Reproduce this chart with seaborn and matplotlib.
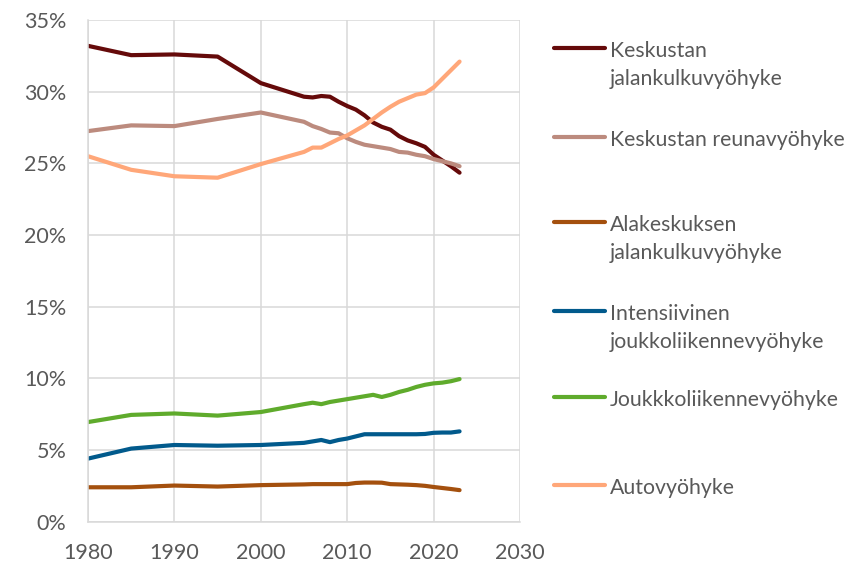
import pandas as pd
import matplotlib.pyplot as plt
from matplotlib.lines import Line2D
from matplotlib.ticker import FuncFormatter
import seaborn as sns

# years: five-year steps until 2005, then annual
years = [1980, 1985, 1990, 1995, 2000] + list(range(2005, 2024))

# share of population (%) by zone
keskusta_jalankulku = [33.2, 32.55, 32.6, 32.45, 30.6, 29.65, 29.6, 29.7, 29.65, 29.3,
                       29.0, 28.75, 28.35, 27.85, 27.55, 27.35, 26.9, 26.6, 26.4, 26.15,
                       25.6, 25.2, 24.8, 24.35]
keskusta_reuna = [27.25, 27.65, 27.6, 28.1, 28.55, 27.9, 27.6, 27.4, 27.15, 27.1,
                  26.75, 26.5, 26.3, 26.2, 26.1, 26.0, 25.8, 25.75, 25.6, 25.5,
                  25.3, 25.15, 25.0, 24.8]
alakeskus_jalankulku = [2.4, 2.4, 2.52, 2.45, 2.55, 2.6, 2.62, 2.62, 2.62, 2.62,
                        2.62, 2.7, 2.73, 2.73, 2.72, 2.62, 2.6, 2.58, 2.55, 2.5,
                        2.42, 2.35, 2.28, 2.2]
intensiivinen_joukko = [4.4, 5.1, 5.35, 5.3, 5.35, 5.5, 5.6, 5.7, 5.55, 5.7,
                        5.8, 5.95, 6.1, 6.1, 6.1, 6.1, 6.1, 6.1, 6.1, 6.12,
                        6.2, 6.22, 6.22, 6.3]
joukko = [6.95, 7.45, 7.55, 7.4, 7.65, 8.2, 8.3, 8.2, 8.35, 8.45,
          8.55, 8.65, 8.75, 8.85, 8.7, 8.85, 9.05, 9.2, 9.4, 9.55,
          9.65, 9.7, 9.8, 9.95]
auto = [25.5, 24.55, 24.1, 24.0, 24.95, 25.8, 26.1, 26.1, 26.4, 26.7,
        26.95, 27.3, 27.65, 28.1, 28.55, 28.95, 29.3, 29.55, 29.8, 29.9,
        30.3, 30.9, 31.5, 32.1]

labels = ["Keskustan\njalankulkuvyöhyke", "Keskustan reunavyöhyke",
          "Alakeskuksen\njalankulkuvyöhyke", "Intensiivinen\njoukkoliikennevyöhyke",
          "Joukkkoliikennevyöhyke", "Autovyöhyke"]
series = [keskusta_jalankulku, keskusta_reuna, alakeskus_jalankulku,
          intensiivinen_joukko, joukko, auto]
colors = ["#650A0A", "#BC8B7E", "#A4500E", "#015A8C", "#5FAB2C", "#FFA779"]

df = pd.concat([pd.DataFrame({"vuosi": years, "osuus": s, "vyöhyke": lab})
                for s, lab in zip(series, labels)])

sns.set_theme(style="whitegrid")
plt.rcParams["font.family"] = ["Lato", "DejaVu Sans"]
grey = "#595959"

fig = plt.figure(figsize=(8.51, 5.63), dpi=100)
ax = fig.add_axes([0.1034, 0.0734, 0.5077, 0.891])

sns.lineplot(data=df, x="vuosi", y="osuus", hue="vyöhyke", hue_order=labels,
             palette=dict(zip(labels, colors)), linewidth=3.0, legend=False, ax=ax)

ax.set_xlim(1980, 2030)
ax.set_ylim(0, 35)
ax.set_xticks(range(1980, 2031, 10))
ax.set_yticks(range(0, 36, 5))
ax.yaxis.set_major_formatter(FuncFormatter(lambda v, p: f"{v:.0f}%"))
ax.set_xlabel("")
ax.set_ylabel("")
ax.grid(color="#D9D9D9", linewidth=1.1)
for side in ["left", "bottom"]:
    ax.spines[side].set_color("#D9D9D9")
    ax.spines[side].set_linewidth(1.1)
for side in ["top", "right"]:
    ax.spines[side].set_visible(False)
ax.tick_params(axis="both", length=0, labelsize=15.5, colors=grey)
ax.tick_params(axis="y", pad=15.5)
ax.tick_params(axis="x", pad=15)

# hand-placed legend like the original, handle level with the first text line
W, H = 851, 563
legend_y = [48, 137, 222, 311, 397, 485]
line_step = 28
for lab, col, y in zip(labels, colors, legend_y):
    fy = 1 - y / H
    fig.add_artist(Line2D([554 / W, 605 / W], [fy, fy], color=col, linewidth=3.0,
                          solid_capstyle="round", transform=fig.transFigure))
    for i, part in enumerate(lab.split("\n")):
        fig.text(610 / W, 1 - (y + 9 + i * line_step) / H, part, ha="left",
                 va="baseline", fontsize=15.3, color=grey,
                 transform=fig.transFigure)

fig.savefig("out.png", dpi=100)
